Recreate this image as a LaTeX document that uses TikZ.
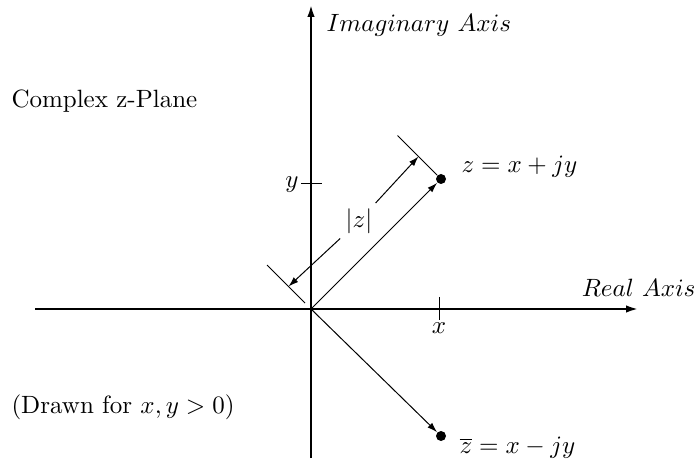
\documentclass[tikz,border=0pt]{standalone}
\usetikzlibrary{arrows.meta}
\begin{document}
\begin{tikzpicture}[x=0.4pt,y=-0.4pt,
  axis/.style={line width=0.8pt,-{Latex[length=4.8pt,width=3pt]}},
  vec/.style={line width=0.4pt,-{Latex[length=4pt,width=2.6pt]}},
  thin line/.style={line width=0.4pt},
  dot/.style={circle,fill=black,inner sep=0pt,minimum size=4pt},
  lbl/.style={inner sep=0pt,font=\normalsize}]
\useasboundingbox (0,0) rectangle (697,464);
\coordinate (O) at (311,309);
\coordinate (xl) at (35,309);
\coordinate (xr) at (638,309);
\coordinate (yb) at (311,458);
\coordinate (yt) at (311,5);
\draw[axis] (xl) -- (xr);
\draw[axis] (yb) -- (yt);
\node[dot] (z) at (441,179) {};
\node[dot] (zb) at (441,436) {};
\draw[vec] (O) -- (z);
\draw[vec] (O) -- (zb);
% ticks
\coordinate (xt1) at (439,297);
\coordinate (xt2) at (439,320);
\coordinate (yt1) at (301,184);
\coordinate (yt2) at (322,184);
\draw[thin line] (xt1) -- (xt2);
\draw[thin line] (yt1) -- (yt2);
% dimension |z|
\coordinate (eL1) at (267,265);
\coordinate (eL2) at (305,303);
\coordinate (eU1) at (397.5,135.5);
\coordinate (eU2) at (437,175);
\draw[thin line] (eL1) -- (eL2);
\draw[thin line] (eU1) -- (eU2);
\coordinate (tipL) at (288.5,286.5);
\coordinate (tipU) at (418.5,156.5);
\node[lbl,inner sep=2pt] (absz) at (359,221) {$|z|$};
\draw[vec] (absz) -- (tipU);
\draw[vec] (absz) -- (tipL);
% labels
\node[lbl,anchor=west] (imag) at (326,25) {$Imaginary\ Axis$};
\node[lbl,anchor=east] (real) at (696,288) {$Real\ Axis$};
\node[lbl,anchor=west] (plane) at (11,101) {Complex z-Plane};
\node[lbl,anchor=west] (drawn) at (11,407) {(Drawn for $x,y>0$)};
\node[lbl,anchor=west] (zlab) at (461,167) {$z=x+jy$};
\node[lbl,anchor=west] (zblab) at (459,448) {$\overline{z}=x-jy$};
\node[lbl,anchor=east] (ylab) at (299,185) {$y$};
\node[lbl,anchor=north] (xlab) at (439,322) {$x$};
\end{tikzpicture}
\end{document}
